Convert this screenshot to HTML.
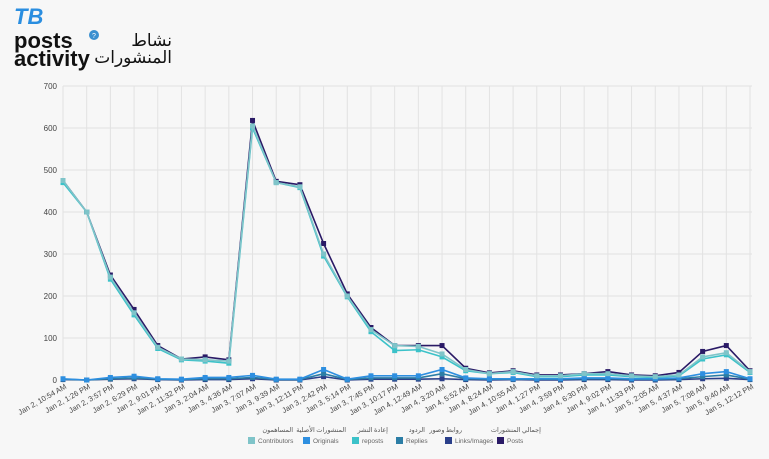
<!DOCTYPE html>
<html><head><meta charset="utf-8"><style>
body{margin:0;background:#f7f7f7;width:769px;height:454px;overflow:hidden;font-family:"Liberation Sans","Noto Sans CJK SC",sans-serif}
</style></head><body>
<svg id="s" width="769" height="454" xmlns="http://www.w3.org/2000/svg">
<rect width="769" height="454" fill="#f7f7f7"/>
<text x="14" y="24" font-size="22" font-weight="bold" fill="#2a8ee0" font-style="italic">TB</text>
<text x="14" y="48" font-size="22" font-weight="bold" fill="#111">posts</text>
<text x="14" y="66" font-size="22" font-weight="bold" fill="#111">activity</text>
<circle cx="94" cy="35" r="5" fill="#3a8fd0"/><text x="94" y="38" font-size="7" fill="#fff" text-anchor="middle">?</text>
<text x="172" y="46" font-size="17" fill="#111" text-anchor="end" font-family="'Noto Sans CJK SC','DejaVu Sans',sans-serif">نشاط</text>
<text x="172" y="63" font-size="17" fill="#111" text-anchor="end" font-family="'Noto Sans CJK SC','DejaVu Sans',sans-serif">المنشورات</text>
<g id="g"></g>
</svg>
<script>
const g=document.getElementById('g');let h='';
const X0=63,DX=23.69,Y0=380,K=0.42;
for(let v=0;v<=700;v+=100){const y=Y0-v*K;h+=`<line x1="${X0}" x2="752" y1="${y}" y2="${y}" stroke="#e2e2e2"/><text x="57" y="${y+3}" font-size="8" fill="#444" text-anchor="end">${v}</text>`;}
const L=["Jan 2, 10:54 AM","Jan 2, 1:26 PM","Jan 2, 3:57 PM","Jan 2, 6:29 PM","Jan 2, 9:01 PM","Jan 2, 11:32 PM","Jan 3, 2:04 AM","Jan 3, 4:36 AM","Jan 3, 7:07 AM","Jan 3, 9:39 AM","Jan 3, 12:11 PM","Jan 3, 2:42 PM","Jan 3, 5:14 PM","Jan 3, 7:45 PM","Jan 3, 10:17 PM","Jan 4, 12:49 AM","Jan 4, 3:20 AM","Jan 4, 5:52 AM","Jan 4, 8:24 AM","Jan 4, 10:55 AM","Jan 4, 1:27 PM","Jan 4, 3:59 PM","Jan 4, 6:30 PM","Jan 4, 9:02 PM","Jan 4, 11:33 PM","Jan 5, 2:05 AM","Jan 5, 4:37 AM","Jan 5, 7:08 AM","Jan 5, 9:40 AM","Jan 5, 12:12 PM"];
L.forEach((l,i)=>{const x=X0+i*DX;h+=`<line x1="${x}" x2="${x}" y1="86" y2="384" stroke="#e2e2e2"/><text transform="translate(${x+4},388) rotate(-30)" font-size="7.5" fill="#444" text-anchor="end">${l}</text>`;});
const S=[
["#2a1a66",[475,400,250,168,82,50,55,48,618,473,465,325,205,125,82,82,82,28,17,22,12,12,15,20,12,10,18,68,82,22]],
["#2a3f8a",[1,0,2,3,1,0,1,1,3,0,0,8,0,2,2,2,3,1,0,1,0,0,1,1,0,0,1,3,4,1]],
["#2c7ea6",[2,0,3,5,2,1,3,3,6,1,1,15,1,5,5,5,15,3,2,2,2,2,3,3,2,2,3,8,12,2]],
["#3cc2c9",[470,400,240,155,75,48,45,40,600,470,458,295,198,115,70,72,55,22,15,18,8,8,12,12,8,6,10,50,60,18]],
["#2e8fe0",[3,0,6,9,3,2,6,6,11,2,2,25,2,10,10,10,25,5,3,3,3,3,5,5,3,3,5,15,20,3]],
["#7fc4c9",[475,400,245,160,78,50,48,45,605,470,460,300,200,120,82,80,62,25,15,20,10,10,15,15,10,8,12,55,65,20]]];
S.forEach(([c,d])=>{const p=d.map((v,i)=>`${X0+i*DX},${Y0-v*K}`).join(' ');h+=`<polyline points="${p}" fill="none" stroke="${c}" stroke-width="1.6"/>`;d.forEach((v,i)=>{h+=`<rect x="${X0+i*DX-2.5}" y="${Y0-v*K-2.5}" width="5" height="5" fill="${c}"/>`;});});
const LG=[["Contributors","المساهمون","#7fc4c9",248,293],["Originals","المنشورات الأصلية","#2e8fe0",303,346],["reposts","إعادة النشر","#3cc2c9",352,388],["Replies","الردود","#2c7ea6",396,425],["Links/Images","روابط وصور","#2a3f8a",445,462],["Posts","إجمالي المنشورات","#2a1a66",497,541]];
LG.forEach(([e,a,c,x,ax])=>{h+=`<rect x="${x}" y="437" width="7" height="7" fill="${c}"/><text x="${x+10}" y="443" font-size="6.5" fill="#666">${e}</text><text x="${ax}" y="432" font-size="6.5" fill="#555" text-anchor="end" font-family="'Noto Sans CJK SC','DejaVu Sans',sans-serif">${a}</text>`;});
g.innerHTML=h;
</script>
</body></html>
